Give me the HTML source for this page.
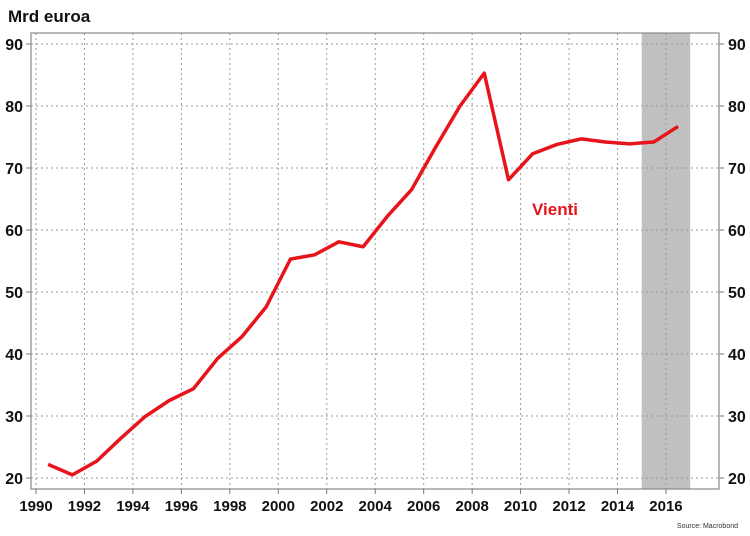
<!DOCTYPE html>
<html><head><meta charset="utf-8"><style>
body{margin:0;background:#fff;}
svg{display:block;font-family:"Liberation Sans",Calibri,sans-serif;}
</style></head><body>
<svg id="c" width="750" height="536">
<text x="8" y="22" font-size="17" font-weight="bold" fill="#111">Mrd euroa</text>
<text x="738" y="528" font-size="7" fill="#333" text-anchor="end">Source: Macrobond</text>
<g id="g"></g>
</svg>
<script>
const years=[1990.5,1991.5,1992.5,1993.5,1994.5,1995.5,1996.5,1997.5,1998.5,1999.5,2000.5,2001.5,2002.5,2003.5,2004.5,2005.5,2006.5,2007.5,2008.5,2009.5,2010.5,2011.5,2012.5,2013.5,2014.5,2015.5,2016.5];
const values=[22.2,20.5,22.7,26.4,29.9,32.5,34.4,39.3,42.8,47.6,55.3,56.0,58.1,57.3,62.2,66.5,73.4,80.0,85.3,68.1,72.3,73.8,74.7,74.2,73.9,74.2,76.7];
const xTicks=[1990,1992,1994,1996,1998,2000,2002,2004,2006,2008,2010,2012,2014,2016];
const yTicks=[20,30,40,50,60,70,80,90];
const shade=[2015,2017];
const NS='http://www.w3.org/2000/svg';
const g=document.getElementById('g');
const L=31,R=719,T=33,B=489;
const X=v=>36+(v-1990)*24.23;
const Y=v=>478-(v-20)*6.2;
function el(t,a){const e=document.createElementNS(NS,t);for(const k in a)e.setAttribute(k,a[k]);g.appendChild(e);return e;}
let r=el('rect',{x:X(shade[0]),y:T,width:X(shade[1])-X(shade[0]),height:B-T,fill:'#c0c0c0'});


yTicks.forEach(v=>{
 let l=el('line',{x1:L,x2:R,y1:Y(v),y2:Y(v),stroke:'#999','stroke-dasharray':'2,3','stroke-width':1});
 
 
 el('line',{x1:L-5,x2:L,y1:Y(v),y2:Y(v),stroke:'#777'});
 el('line',{x1:R,x2:R+5,y1:Y(v),y2:Y(v),stroke:'#777'});
 let a=el('text',{x:L-8,y:Y(v)+6,'font-size':16,'font-weight':'bold','text-anchor':'end',fill:'#111'});a.textContent=v;
 
 
 let b=el('text',{x:R+9,y:Y(v)+6,'font-size':16,'font-weight':'bold',fill:'#111'});b.textContent=v;
 
 
});
xTicks.forEach(v=>{
 let l=el('line',{x1:X(v),x2:X(v),y1:T,y2:B,stroke:'#999','stroke-dasharray':'2,3','stroke-width':1});
 
 
 el('line',{x1:X(v),x2:X(v),y1:B,y2:B+5,stroke:'#777'});
 let t=el('text',{x:X(v),y:B+22,'font-size':15,'font-weight':'bold','text-anchor':'middle',fill:'#111'});t.textContent=v;
 
 
});
let f=el('rect',{x:L,y:T,width:R-L,height:B-T,fill:'none',stroke:'#888','stroke-width':1.2});


let p=el('polyline',{points:years.map((y,i)=>X(y)+','+Y(values[i])).join(' '),fill:'none',stroke:'#e8141b','stroke-width':3.5,'stroke-linejoin':'round'});


let lb=el('text',{x:532,y:215,'font-size':17,'font-weight':'bold',fill:'#e8141b'});lb.textContent='Vienti';


</script>
</body></html>
